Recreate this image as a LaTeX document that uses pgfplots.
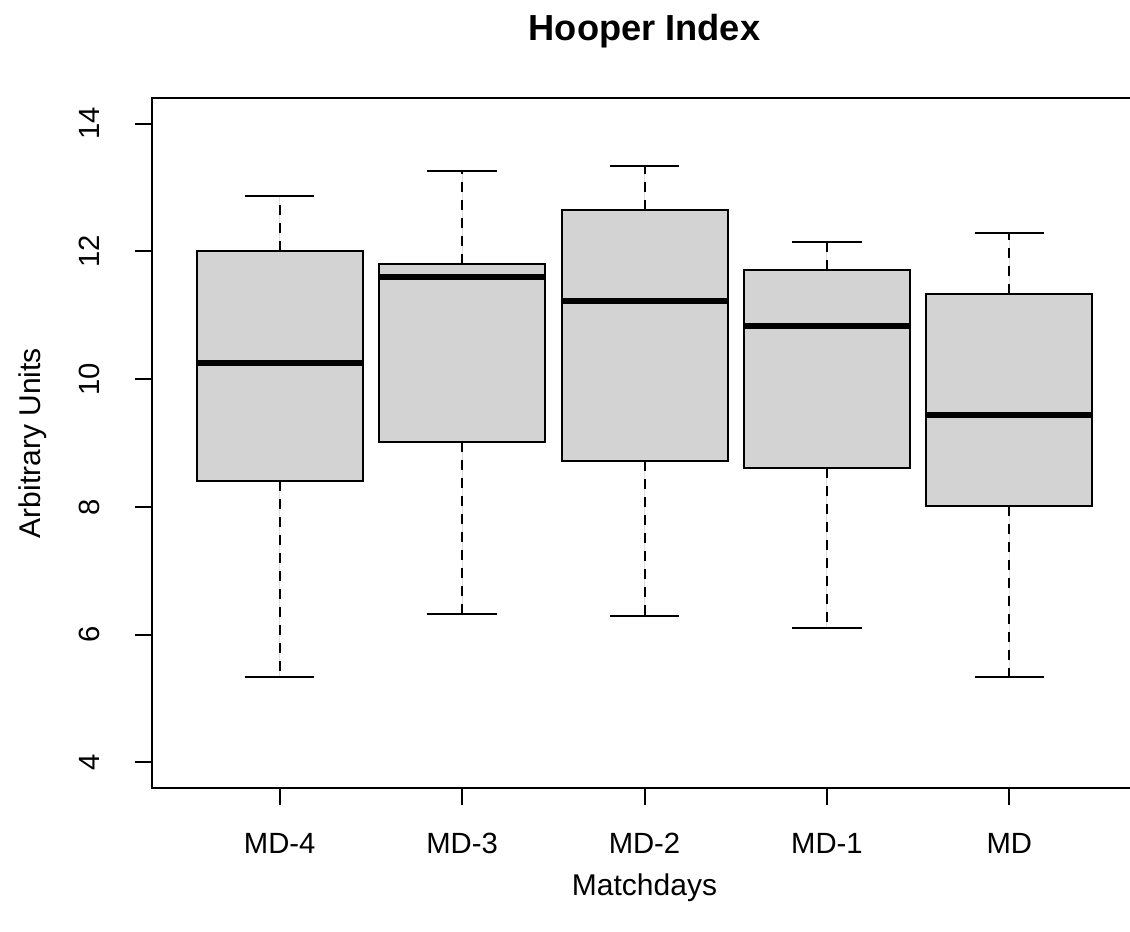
\documentclass[border=0pt]{standalone}
\usepackage{fontspec}
\setmainfont{Liberation Sans}
\usepackage{pgfplots}
\pgfplotsset{compat=1.18}
\usepgfplotslibrary{statistics}
\definecolor{boxgray}{HTML}{D3D3D3}
\begin{document}
\begin{tikzpicture}
\begin{axis}[
  at={(0,0)}, anchor=south west,
  scale only axis, width=394pt, height=276pt,
  xmin=0.3, xmax=5.7, ymin=3.6, ymax=14.4,
  xtick={1,2,3,4,5}, xticklabels={MD-4,MD-3,MD-2,MD-1,MD},
  ytick={4,6,8,10,12,14},
  tick pos=left, tick align=outside,
  major tick length=6.8pt,
  every tick/.style={black,line width=0.8pt},
  axis line style={black,line width=0.8pt},
  /pgf/number format/assume math mode=true,
  tick label style={font=\fontsize{11.7}{14}\selectfont},
  yticklabel style={rotate=90,anchor=south,yshift=10.5pt},
  xticklabel style={anchor=base,yshift=-19.2pt},
  title={\bfseries Hooper Index},
  title style={font=\fontsize{14.5}{17}\selectfont, at={(axis description cs:0.5,1)}, anchor=base, yshift=16.8pt},
  xlabel={Matchdays},
  xlabel style={font=\fontsize{12}{14}\selectfont, at={(axis description cs:0.5,0)}, anchor=base, yshift=-43pt},
  ylabel={Arbitrary Units},
  ylabel style={font=\fontsize{12}{14}\selectfont, at={([xshift=-44.5pt]axis description cs:0,0.5)}, anchor=base},
  boxplot/draw direction=y,
  boxplot/every median/.style={black,line width=2.2pt},
  boxplot/draw/whisker/.code 2 args={%
    \draw[black,line width=0.8pt,dash pattern=on 4pt off 3.2pt] (boxplot cs:#1) -- (boxplot cs:#2);
    \draw[black,line width=0.8pt,solid] (boxplot cs:#2,-0.19) -- (boxplot cs:#2,0.19);
  },
  every axis plot/.append style={line width=0.8pt},
]
\addplot+[boxplot prepared={draw position=1, median=10.25, upper quartile=12.0, lower quartile=8.41, upper whisker=12.87, lower whisker=5.33, box extend=0.91}, draw=black, fill=boxgray, solid, mark=none] coordinates {};
\addplot+[boxplot prepared={draw position=2, median=11.6, upper quartile=11.8, lower quartile=9.01, upper whisker=13.25, lower whisker=6.33, box extend=0.91}, draw=black, fill=boxgray, solid, mark=none] coordinates {};
\addplot+[boxplot prepared={draw position=3, median=11.22, upper quartile=12.64, lower quartile=8.72, upper whisker=13.33, lower whisker=6.3, box extend=0.91}, draw=black, fill=boxgray, solid, mark=none] coordinates {};
\addplot+[boxplot prepared={draw position=4, median=10.83, upper quartile=11.7, lower quartile=8.61, upper whisker=12.14, lower whisker=6.1, box extend=0.91}, draw=black, fill=boxgray, solid, mark=none] coordinates {};
\addplot+[boxplot prepared={draw position=5, median=9.44, upper quartile=11.33, lower quartile=8.01, upper whisker=12.28, lower whisker=5.33, box extend=0.91}, draw=black, fill=boxgray, solid, mark=none] coordinates {};
\end{axis}
\pgfresetboundingbox
\path[use as bounding box] (-60.8pt,-57.2pt) rectangle (391.2pt,315.2pt);
\end{tikzpicture}
\end{document}
